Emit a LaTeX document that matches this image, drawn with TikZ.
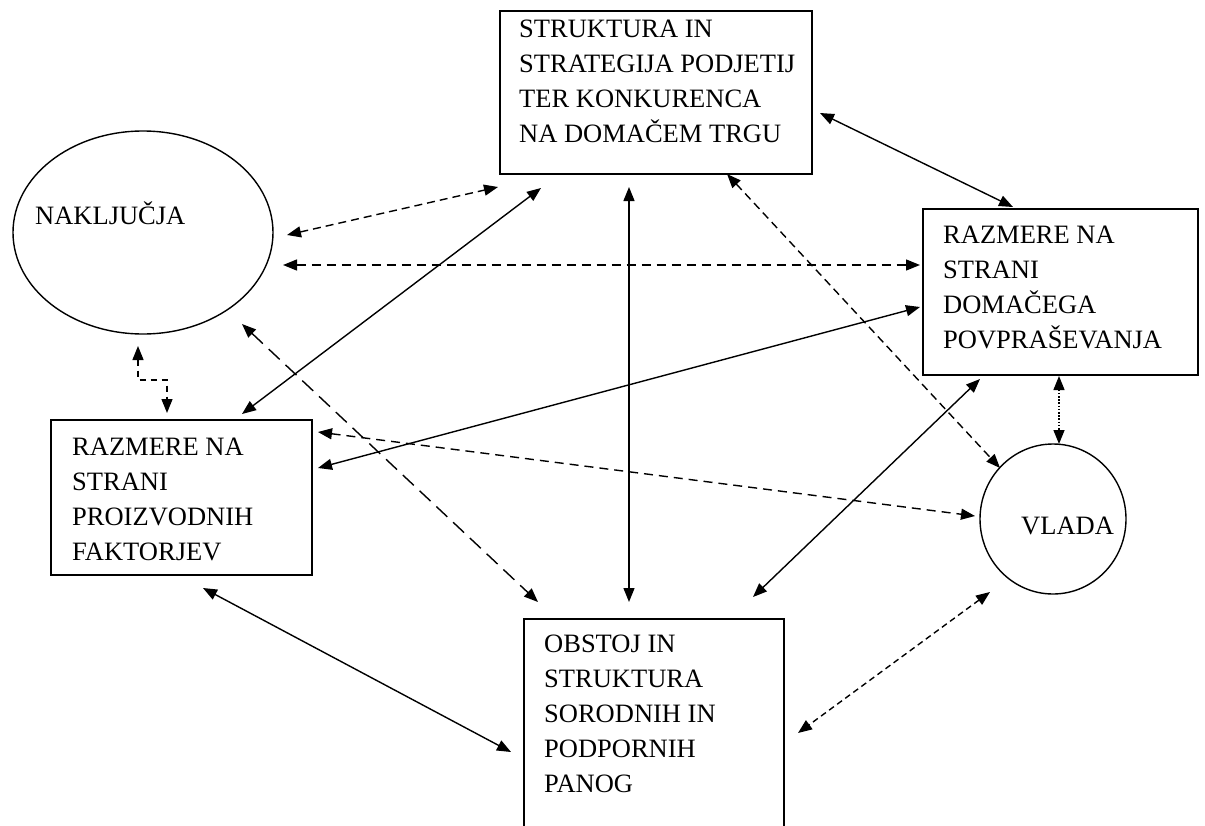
\documentclass[tikz,border=0pt]{standalone}
\usepackage{fontspec}
\setmainfont{Liberation Serif}
\usetikzlibrary{arrows.meta,shapes.geometric}
\begin{document}
\begin{tikzpicture}[x=1pt,y=-1pt,
  box/.style={draw, line width=1.6pt, rectangle, inner sep=0pt, anchor=north west},
  oval/.style={draw, line width=1.4pt, ellipse, inner sep=0pt},
  txt/.style={inner sep=0pt, align=left, font=\fontsize{26.5}{35}\selectfont},
  link/.style={line width=1.4pt, {Triangle[length=14pt,width=11pt]}-{Triangle[length=14pt,width=11pt]}},
  dshort/.style={dash pattern=on 8pt off 5pt},
  dmid/.style={dash pattern=on 9pt off 6pt},
  dlong/.style={dash pattern=on 15pt off 8pt},
  dfine/.style={dash pattern=on 6pt off 4pt},
  delbow/.style={dash pattern=on 6pt off 5pt},
  ddot/.style={dash pattern=on 1.6pt off 1.6pt}
]
\useasboundingbox (0,0) rectangle (1205,825);
\clip (0,0) rectangle (1205,825);

% shapes
\node[box, minimum width=312pt, minimum height=163pt] (top) at (499,10) {};
\node[box, minimum width=275pt, minimum height=166pt] (right) at (922,208) {};
\node[box, minimum width=261pt, minimum height=155pt] (left) at (50,419) {};
\node[box, minimum width=260pt, minimum height=260pt] (bottom) at (523,618) {};
\node[oval, minimum width=260pt, minimum height=203pt] (nak) at (143,232.5) {};
\node[oval, minimum width=146pt, minimum height=150pt] (vlada) at (1053,519) {};

% texts
\node[txt, anchor=north west] (toptxt) at (519,12.5) {\strut STRUKTURA IN\\\strut STRATEGIJA PODJETIJ\\\strut TER KONKURENCA\\\strut NA DOMAČEM TRGU};
\node[txt, anchor=north west] (righttxt) at (943,218.5) {\strut RAZMERE NA\\\strut STRANI\\\strut DOMAČEGA\\\strut POVPRAŠEVANJA};
\node[txt, anchor=north west] (lefttxt) at (72,430.5) {\strut RAZMERE NA\\\strut STRANI\\\strut PROIZVODNIH\\\strut FAKTORJEV};
\node[txt, anchor=north west] (bottomtxt) at (544,627.5) {\strut OBSTOJ IN\\\strut STRUKTURA\\\strut SORODNIH IN\\\strut PODPORNIH\\\strut PANOG};
\node[txt, anchor=base west] (naktxt) at (35,224) {NAKLJUČJA};
\node[txt, anchor=base west] (vladatxt) at (1021,534) {VLADA};

% connector end points
\coordinate (topR) at (820,113);    \coordinate (rightT) at (1013,207);
\coordinate (nakA) at (287,235);    \coordinate (topA) at (498,187);
\coordinate (nakB) at (283,265);    \coordinate (rightA) at (920,265);
\coordinate (topB) at (541,188);    \coordinate (leftA) at (242,414);
\coordinate (topC) at (629,187);    \coordinate (bottomA) at (629,602);
\coordinate (topD) at (727,174);    \coordinate (vladaA) at (1000,468);
\coordinate (nakC) at (242,324);    \coordinate (bottomB) at (538,602);
\coordinate (nakD) at (138,346);    \coordinate (elbow) at (167,380);   \coordinate (leftB) at (167,413);
\coordinate (rightB) at (920,307);  \coordinate (leftC) at (318,468);
\coordinate (leftD) at (318,432);   \coordinate (vladaB) at (975,516);
\coordinate (rightC) at (980,379);  \coordinate (bottomC) at (753,597);
\coordinate (rightD) at (1059,376); \coordinate (vladaC) at (1059,444);
\coordinate (leftE) at (203,588);   \coordinate (bottomD) at (511,752);
\coordinate (vladaD) at (990,592);  \coordinate (bottomE) at (798,733);

% connectors
\draw[link] (topR) -- (rightT);
\draw[link, dshort] (nakA) -- (topA);
\draw[link, dmid] (nakB) -- (rightA);
\draw[link] (topB) -- (leftA);
\draw[link] (topC) -- (bottomA);
\draw[link, dshort] (topD) -- (vladaA);
\draw[link, dlong] (nakC) -- (bottomB);
\draw[link, delbow] (nakD) |- (elbow) -- (leftB);
\draw[link] (rightB) -- (leftC);
\draw[link, dmid] (leftD) -- (vladaB);
\draw[link] (rightC) -- (bottomC);
\draw[link, ddot] (rightD) -- (vladaC);
\draw[link] (leftE) -- (bottomD);
\draw[link, dfine] (vladaD) -- (bottomE);
\end{tikzpicture}
\end{document}
